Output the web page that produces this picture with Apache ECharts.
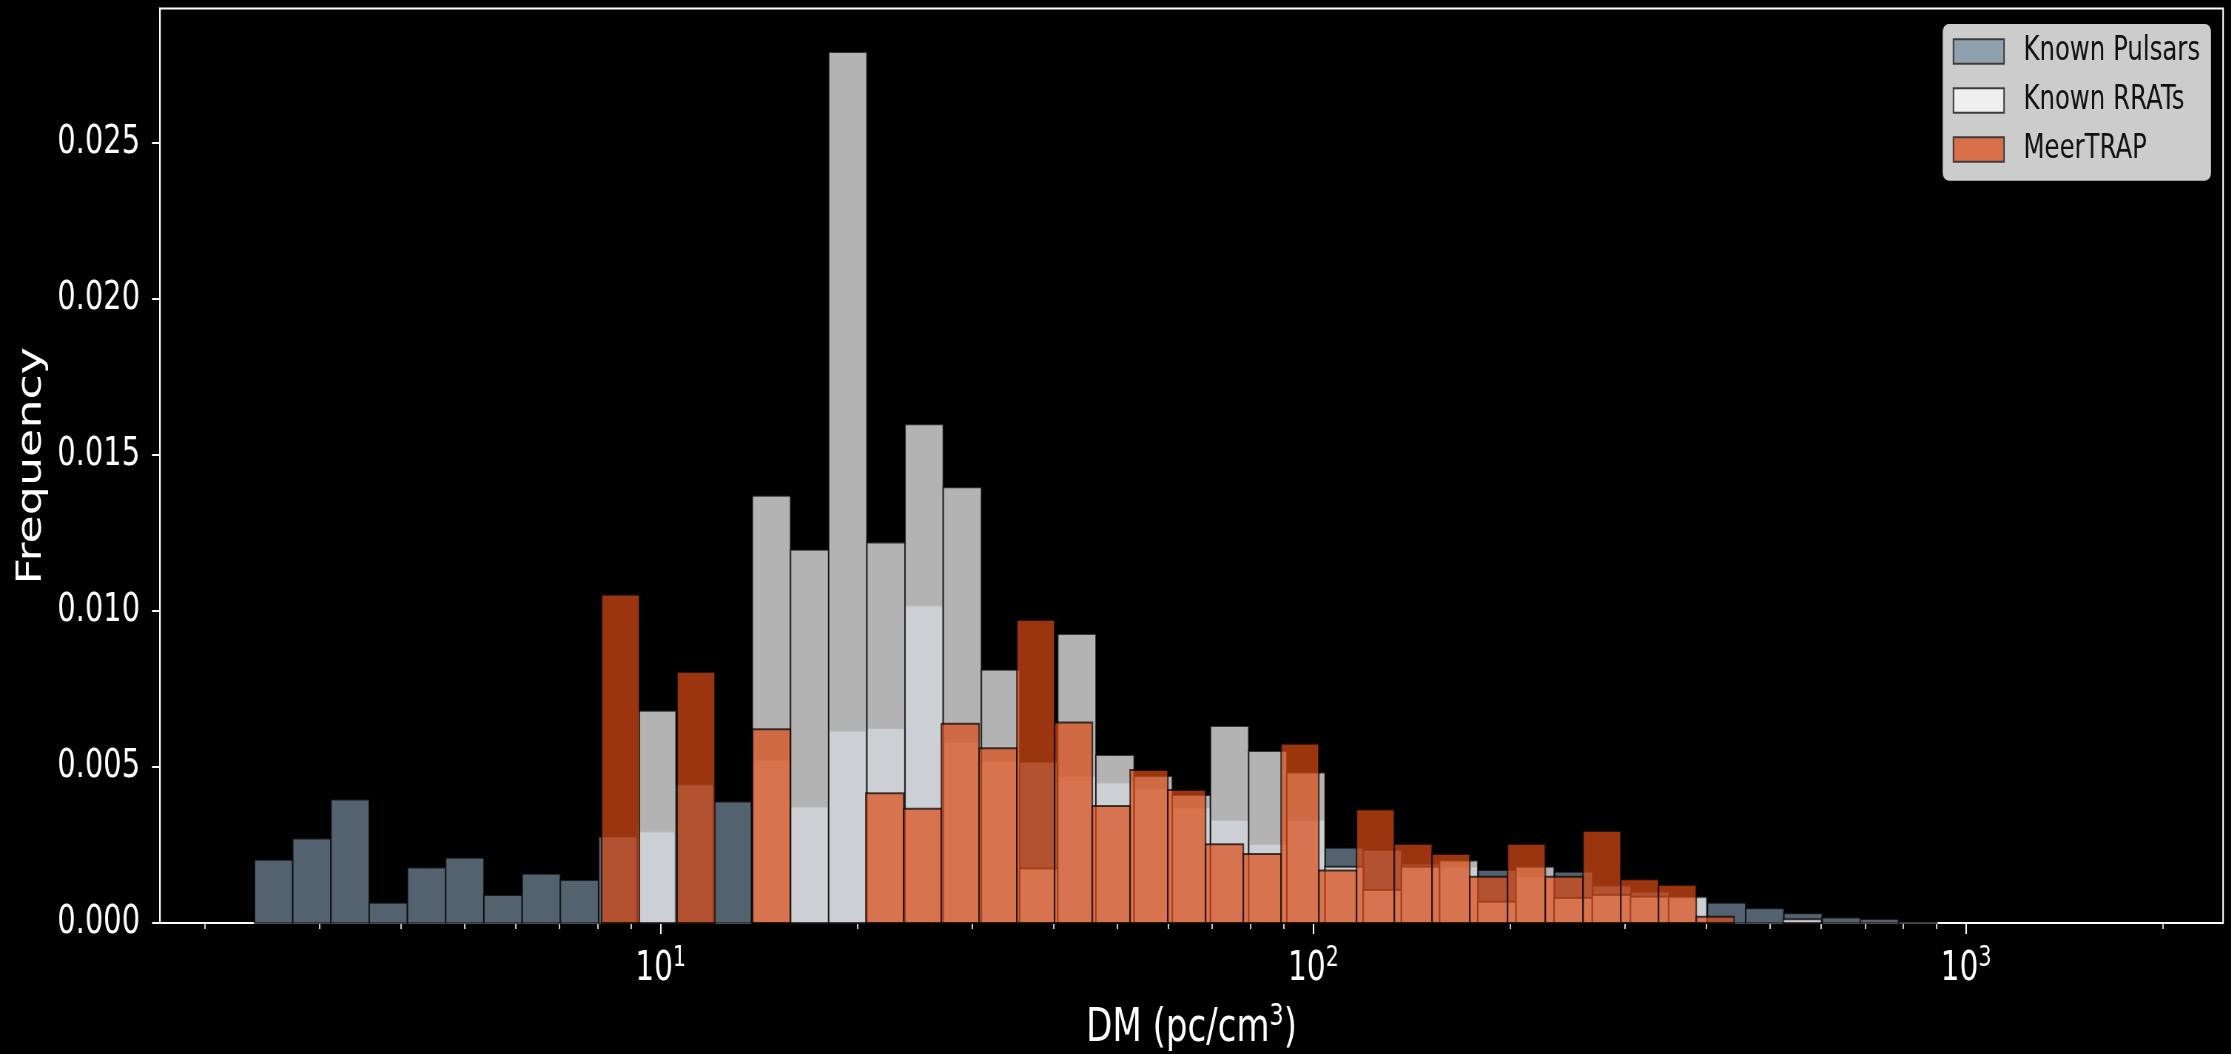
<!DOCTYPE html>
<html>
<head>
<meta charset="utf-8">
<title>DM distribution</title>
<script src="https://cdn.jsdelivr.net/npm/echarts@6/dist/echarts.min.js"></script>
<style>
  html, body { margin: 0; padding: 0; background: #000; overflow: hidden; width: 2231px; height: 1054px; }
  #chart { position: absolute; left: 0; top: 0; height: 1054px; transform-origin: 0 0; }
</style>
</head>
<body>
<div id="chart"></div>
<script>
// ---- histogram data: normalised frequency per logarithmic DM bin ----
const pulsarRange = [2.386, 1771];        // DM of first / last bin edge
const pulsarBinCount = 49;
const pulsarDensity = [
  0.00203, 0.00271, 0.00396, 0.00065, 0.00178, 0.00209, 0.00090, 0.00158, 0.00138, 0.00277,
  0.00293, 0.00444, 0.00389, 0.00522, 0.00373, 0.00616, 0.00624, 0.01017, 0.00580, 0.00520,
  0.00517, 0.00470, 0.00450, 0.00430, 0.00370, 0.00330, 0.00253, 0.00330, 0.00241, 0.00234,
  0.00190, 0.00180, 0.00170, 0.00150, 0.00164, 0.00120, 0.00100, 0.00080, 0.00065, 0.00047,
  0.00031, 0.00018, 0.00013, 0.00004, 0.00000, 0.00000, 0.00000, 0.00000, 0.00000
];

const rratRange = [9.225, 600.1];
const rratBinCount = 31;
const rratDensity = [
  0.00680, 0.00000, 0.00000, 0.01369, 0.01196, 0.02791, 0.01219, 0.01598, 0.01396, 0.00811,
  0.00175, 0.00926, 0.00538, 0.00471, 0.00410, 0.00631, 0.00551, 0.00482, 0.00180, 0.00106,
  0.00180, 0.00200, 0.00068, 0.00180, 0.00080, 0.00090, 0.00084, 0.00084, 0.00000, 0.00000,
  0.00012
];

const meertrapRange = [8.12, 441.0];
const meertrapBinCount = 30;
const meertrapDensity = [
  0.01052, 0.00000, 0.00804, 0.00000, 0.00621, 0.00000, 0.00000, 0.00416, 0.00366, 0.00638,
  0.00560, 0.00971, 0.00642, 0.00375, 0.00490, 0.00426, 0.00252, 0.00221, 0.00574, 0.00168,
  0.00364, 0.00253, 0.00221, 0.00148, 0.00253, 0.00148, 0.00295, 0.00140, 0.00122, 0.00020
];

const seriesNames = ['Known Pulsars', 'Known RRATs', 'MeerTRAP'];

// ---- axes ----
const xRange = [1.7096, 2476];
const yRange = [0, 0.0293];
const yTickValues = [0, 0.005, 0.010, 0.015, 0.020, 0.025];
const majorTickDM = [10, 100, 1000];
const minorTickDM = [2, 3, 4, 5, 6, 7, 8, 9, 20, 30, 40, 50, 60, 70, 80, 90,
                     200, 300, 400, 500, 600, 700, 800, 900, 2000];

// ---- figure geometry (the figure is drawn wide and squeezed horizontally) ----
const SX = 0.74;
const W = 2231, H = 1054;
const px = v => v / SX;   // horizontal length in final pixels -> drawing pixels

const el = document.getElementById('chart');
el.style.width = (W / SX) + 'px';
el.style.transform = 'scaleX(' + SX + ')';

// build [leftEdge, rightEdge, height] items from a log-spaced binning
function binItems(range, n, density) {
  const a = Math.log10(range[0]), b = Math.log10(range[1]);
  const edge = i => Math.pow(10, a + (b - a) * i / n);
  const out = [];
  density.forEach((d, i) => { if (d > 0) out.push([edge(i), edge(i + 1), d]); });
  return out;
}

const faceColors = ['rgb(119,140,160)', 'rgb(255,255,255)', 'rgb(220,76,23)'];
const legendColors = ['#8fa0ae', '#efefef', '#d9704a'];

function histSeries(name, items, fill) {
  return {
    type: 'custom',
    name: name,
    xAxisIndex: 0,
    yAxisIndex: 0,
    data: items,
    encode: { x: [0, 1], y: 2 },
    itemStyle: { color: fill },
    renderItem: function (params, api) {
      const p0 = api.coord([api.value(0), 0]);
      const p1 = api.coord([api.value(1), api.value(2)]);
      return {
        type: 'rect',
        shape: { x: p0[0], y: p1[1], width: p1[0] - p0[0], height: p0[1] - p1[1] },
        style: { fill: fill, stroke: '#000', lineWidth: 2, opacity: 0.7 }
      };
    }
  };
}

const FONT = 'DejaVu Sans';
const chart = echarts.init(el, null, { renderer: 'canvas' });

chart.setOption({
  backgroundColor: '#000',
  animation: false,
  grid: {
    left: px(160), right: px(8), top: 8.5, bottom: 131,
    containLabel: false, outerBoundsMode: 'none',
    show: true, borderColor: '#fff', borderWidth: 2, backgroundColor: '#000'
  },
  xAxis: [
    {
      type: 'log', logBase: 10, min: xRange[0], max: xRange[1],
      name: 'DM (pc/cm{sup|3})', nameLocation: 'middle', nameGap: 79,
      nameTextStyle: {
        color: '#fff', fontFamily: FONT, fontSize: 46,
        rich: { sup: { color: '#fff', fontFamily: FONT, fontSize: 30, padding: [0, 0, 24, 0] } }
      },
      axisLine: { show: true, onZero: false, lineStyle: { color: '#fff', width: 2 } },
      axisTick: { show: true, customValues: majorTickDM, length: 11, lineStyle: { color: '#fff', width: 2 } },
      axisLabel: {
        show: true, customValues: majorTickDM, margin: 22,
        color: '#fff', fontFamily: FONT, fontSize: 40,
        formatter: v => '10{sup|' + Math.round(Math.log10(v)) + '}',
        rich: { sup: { color: '#fff', fontFamily: FONT, fontSize: 28, padding: [0, 0, 22, 0] } }
      },
      splitLine: { show: false }, minorTick: { show: false }
    },
    {
      type: 'log', logBase: 10, min: xRange[0], max: xRange[1], position: 'bottom',
      axisLine: { show: false },
      axisTick: { show: true, customValues: minorTickDM, length: 6, lineStyle: { color: '#fff', width: 1.6 } },
      axisLabel: { show: false },
      splitLine: { show: false }
    }
  ],
  yAxis: {
    type: 'value', min: yRange[0], max: yRange[1],
    name: 'Frequency', nameLocation: 'middle', nameRotate: 90, nameGap: px(111),
    nameTextStyle: { color: '#fff', fontFamily: FONT, fontSize: 46 },
    axisLine: { show: true, lineStyle: { color: '#fff', width: 2 } },
    axisTick: { show: true, customValues: yTickValues, length: px(8), lineStyle: { color: '#fff', width: 2 } },
    axisLabel: {
      customValues: yTickValues,
      color: '#fff', fontFamily: FONT, fontSize: 39, margin: px(20),
      formatter: v => v.toFixed(3)
    },
    splitLine: { show: false }
  },
  graphic: [{
    type: 'rect', z: 3,
    shape: { x: px(1942.7), y: 24, width: px(2211 - 1942.7), height: 156.7, r: 8 },
    style: { fill: '#cccccc' }
  }],
  legend: {
    z: 5, orient: 'vertical', selectedMode: false,
    left: px(1952.7), top: 35, padding: 0,
    itemWidth: px(50.6), itemHeight: 24.6, itemGap: 16,
    icon: 'rect',
    textStyle: { color: '#111', fontFamily: FONT, fontSize: 33, lineHeight: 24.6, padding: [0, 0, 0, px(19.4) - 5] },
    data: seriesNames.map((n, i) => ({
      name: n,
      itemStyle: { color: legendColors[i], borderColor: '#3c3c3c', borderWidth: 2, opacity: 1 }
    }))
  },
  series: [
    histSeries(seriesNames[0], binItems(pulsarRange, pulsarBinCount, pulsarDensity), faceColors[0]),
    histSeries(seriesNames[1], binItems(rratRange, rratBinCount, rratDensity), faceColors[1]),
    histSeries(seriesNames[2], binItems(meertrapRange, meertrapBinCount, meertrapDensity), faceColors[2])
  ]
});
</script>
</body>
</html>
